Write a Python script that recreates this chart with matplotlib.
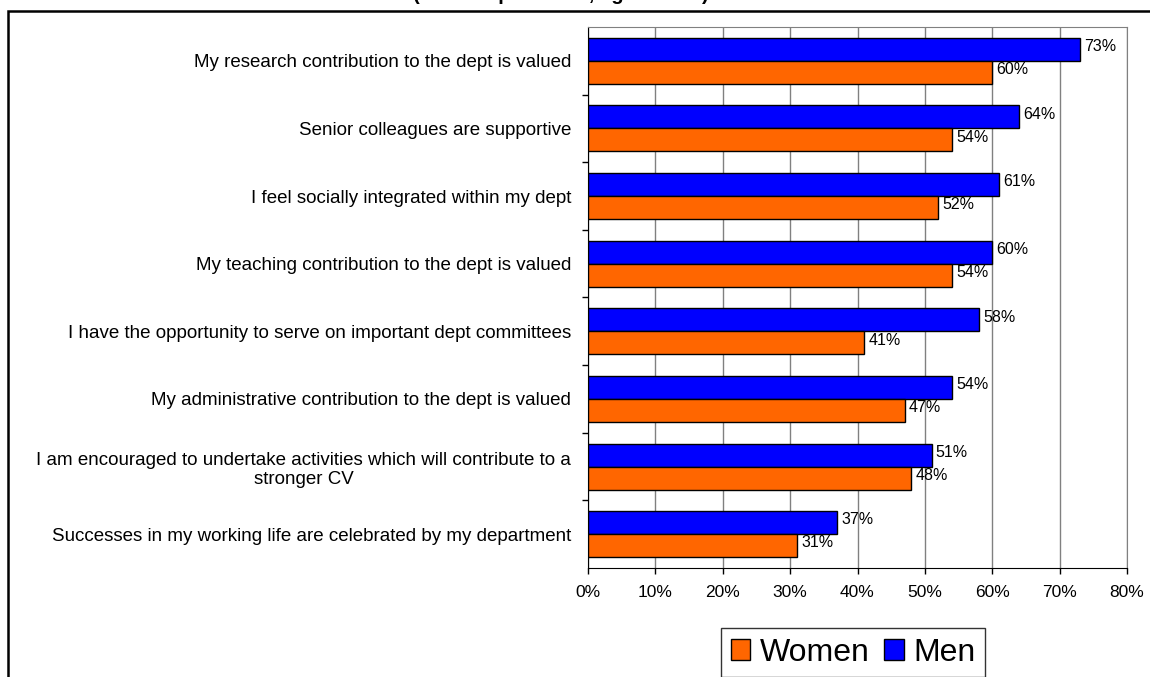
"""Perception of dept culture by gender: horizontal paired bars (men vs women)."""
import matplotlib
matplotlib.use("Agg")
import matplotlib.pyplot as plt
from matplotlib.patches import Rectangle

plt.rcParams["font.family"] = ["Liberation Sans", "DejaVu Sans"]

CATEGORIES = [
    "My research contribution to the dept is valued",
    "Senior colleagues are supportive",
    "I feel socially integrated within my dept",
    "My teaching contribution to the dept is valued",
    "I have the opportunity to serve on important dept committees",
    "My administrative contribution to the dept is valued",
    "I am encouraged to undertake activities which will contribute to a\nstronger CV",
    "Successes in my working life are celebrated by my department",
]
MEN = [73, 64, 61, 60, 58, 54, 51, 37]
WOMEN = [60, 54, 52, 54, 41, 47, 48, 31]
XTICKS = [0, 10, 20, 30, 40, 50, 60, 70, 80]

BLUE = "#0000FF"
ORANGE = "#FF6600"
GRID = "#808080"
BAR_H = 0.34


def main():
    W, H = 1150, 677
    fig = plt.figure(figsize=(W / 100, H / 100), dpi=100)
    ax = fig.add_axes([588 / W, 1 - 568 / H, (1127 - 588) / W, (568 - 27) / H])

    ys = list(range(len(CATEGORIES)))
    men_y = [y - BAR_H / 2 for y in ys]
    women_y = [y + BAR_H / 2 for y in ys]
    ax.barh(men_y, MEN, height=BAR_H, color=BLUE, edgecolor="black",
            linewidth=1.0, label="Men", zorder=3)
    ax.barh(women_y, WOMEN, height=BAR_H, color=ORANGE, edgecolor="black",
            linewidth=1.0, label="Women", zorder=3)

    for y, v in zip(men_y, MEN):
        ax.annotate(f"{v}%", (v, y), xytext=(3, 2), textcoords="offset points",
                    ha="left", va="center", fontsize=11.5, zorder=4)
    for y, v in zip(women_y, WOMEN):
        ax.annotate(f"{v}%", (v, y), xytext=(3, 2), textcoords="offset points",
                    ha="left", va="center", fontsize=11.5, zorder=4)

    ax.set_xlim(0, 80)
    ax.set_ylim(len(CATEGORIES) - 0.5, -0.5)
    ax.set_xticks(XTICKS)
    ax.set_xticklabels([f"{t}%" for t in XTICKS], fontsize=12.5)
    ax.xaxis.grid(True, color=GRID, linewidth=1.0, zorder=0)
    ax.tick_params(axis="x", length=4, width=1, pad=8, color="black")

    ax.set_yticks(ys)
    ax.set_yticklabels(CATEGORIES, fontsize=13.5)
    for lbl in ax.get_yticklabels():
        lbl.set_multialignment("center")
    ax.tick_params(axis="y", which="major", length=0, pad=12)
    ax.set_yticks([y + 0.5 for y in ys[:-1]], minor=True)
    ax.tick_params(axis="y", which="minor", length=4, width=1, color="black")

    for side in ("top", "right"):
        ax.spines[side].set_color(GRID)
    for side in ("left", "bottom"):
        ax.spines[side].set_color("black")

    # legend, Women first, running past the bottom edge like the source
    handles, labels = ax.get_legend_handles_labels()
    fig.legend(handles[::-1], labels[::-1], loc="upper left",
               bbox_to_anchor=(721 / W, 1 - 628 / H), ncol=2, fontsize=23,
               frameon=True, fancybox=False, edgecolor="black",
               handlelength=0.62, handleheight=0.62, handletextpad=0.3,
               columnspacing=0.45, borderpad=0.3, borderaxespad=0)

    # outer chart frame (right and bottom edges fall outside the crop)
    fig.patches.append(Rectangle((8 / W, -0.2), 1.2, 1.2 - 11 / H,
                                 transform=fig.transFigure, fill=False,
                                 edgecolor="black", linewidth=1.8))
    # title mostly cut off at the top of the crop
    fig.text(561 / W, 1 + 0.5 / H, "(% of respondents, agreement)",
             ha="center", va="baseline", fontsize=14.5, fontweight="bold")

    fig.savefig("out.png", dpi=100)


if __name__ == "__main__":
    main()
